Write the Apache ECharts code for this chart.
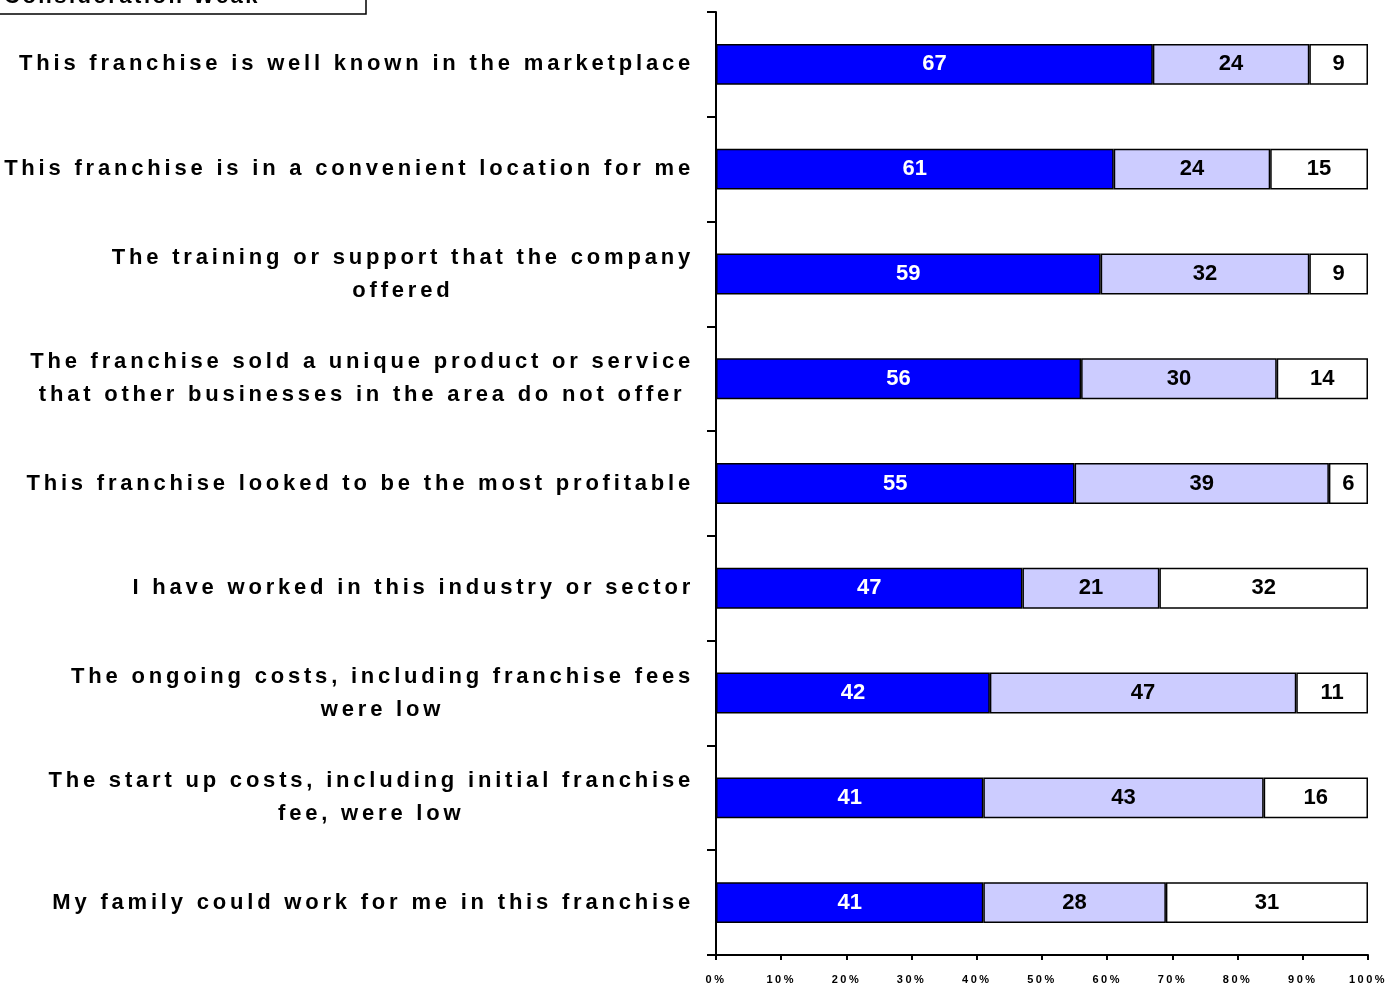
<!DOCTYPE html>
<html><head><meta charset="utf-8">
<script src="https://cdn.jsdelivr.net/npm/echarts@6/dist/echarts.min.js"></script>
<style>html,body{margin:0;padding:0;background:#fff}#c{width:1388px;height:984px}</style>
</head><body><div id="c"></div>
<script>
// Letter-spacing support: font families tagged with a spacing marker get canvas letterSpacing.
(function(){
  const proto = CanvasRenderingContext2D.prototype;
  const desc = Object.getOwnPropertyDescriptor(proto, 'font');
  if (!desc || !('letterSpacing' in proto)) return;
  Object.defineProperty(proto, 'font', {
    configurable: true,
    get: function(){ return desc.get.call(this); },
    set: function(v){
      desc.set.call(this, v);
      const m = /Spaced(\d+)/.exec(v);
      this.letterSpacing = m ? (parseInt(m[1], 10) / 10) + 'px' : '0px';
    }
  });
})();

const categories = [
  "This franchise is well known in the marketplace",
  "This franchise is in a convenient location for me",
  "The training or support that the company\noffered",
  "The franchise sold a unique product or service\nthat other businesses in the area do not offer",
  "This franchise looked to be the most profitable",
  "I have worked in this industry or sector",
  "The ongoing costs, including franchise fees\nwere low",
  "The start up costs, including initial franchise\nfee, were low",
  "My family could work for me in this franchise"
];
const seriesA = [67, 61, 59, 56, 55, 47, 42, 41, 41];
const seriesB = [24, 24, 32, 30, 39, 21, 47, 43, 28];
const seriesC = [9, 15, 9, 14, 6, 32, 11, 16, 31];
const titleText = "Consideration Weak";

const FONT = "'Liberation Sans', Arial, sans-serif";
const CAT_FONT = "'Liberation Sans', Spaced38, Arial, sans-serif";
const TICK_FONT = "'Liberation Sans', Spaced25, Arial, sans-serif";
const chart = echarts.init(document.getElementById('c'));
function mkSeries(name, data, color, textColor) {
  return {
    name, type: 'bar', stack: 'all', data, barWidth: '39%',
    itemStyle: { color, borderColor: '#000', borderWidth: 1.5 },
    label: { show: true, position: 'inside', color: textColor, fontWeight: 'bold',
      fontSize: 22, fontFamily: FONT, formatter: '{c}' }
  };
}
chart.setOption({
  animation: false,
  grid: { left: 716, right: 20, top: 12, bottom: 29, containLabel: false, outerBoundsMode: 'none' },
  xAxis: {
    type: 'value', min: 0, max: 100, interval: 10,
    axisLine: { show: true, lineStyle: { color: '#000', width: 2 } },
    axisTick: { show: true, length: 5, lineStyle: { color: '#000', width: 2 } },
    splitLine: { show: false },
    axisLabel: { formatter: '{value}%', color: '#000', fontWeight: 'bold',
      fontSize: 11, fontFamily: TICK_FONT, margin: 18 }
  },
  yAxis: {
    type: 'category', data: categories, inverse: true,
    axisLine: { show: true, lineStyle: { color: '#000', width: 2 } },
    axisTick: { show: true, length: 9, lineStyle: { color: '#000', width: 2 } },
    axisLabel: {
      color: '#000', margin: 22, align: 'right',
      fontFamily: CAT_FONT, fontWeight: 'bold', fontSize: 22, lineHeight: 33,
      formatter: v => v.split('\n').map(s => '{c|' + s + '}').join('\n'),
      rich: { c: { align: 'center', fontFamily: CAT_FONT, fontWeight: 'bold', fontSize: 22, lineHeight: 33, color: '#000' } }
    }
  },
  series: [
    mkSeries('A', seriesA, '#0000FF', '#fff'),
    mkSeries('B', seriesB, '#CCCCFF', '#000'),
    mkSeries('C', seriesC, '#FFFFFF', '#000')
  ],
  graphic: [
    { type: 'rect', z: 10, shape: { x: -3, y: -40, width: 369, height: 54 },
      style: { fill: '#fff', stroke: '#000', lineWidth: 1.5 } },
    { type: 'text', z: 11, x: 4, y: 9, style: { text: titleText, fill: '#000',
      font: "bold 22px 'Liberation Sans', Spaced25, Arial, sans-serif", verticalAlign: 'bottom', align: 'left' } }
  ]
});
</script></body></html>
